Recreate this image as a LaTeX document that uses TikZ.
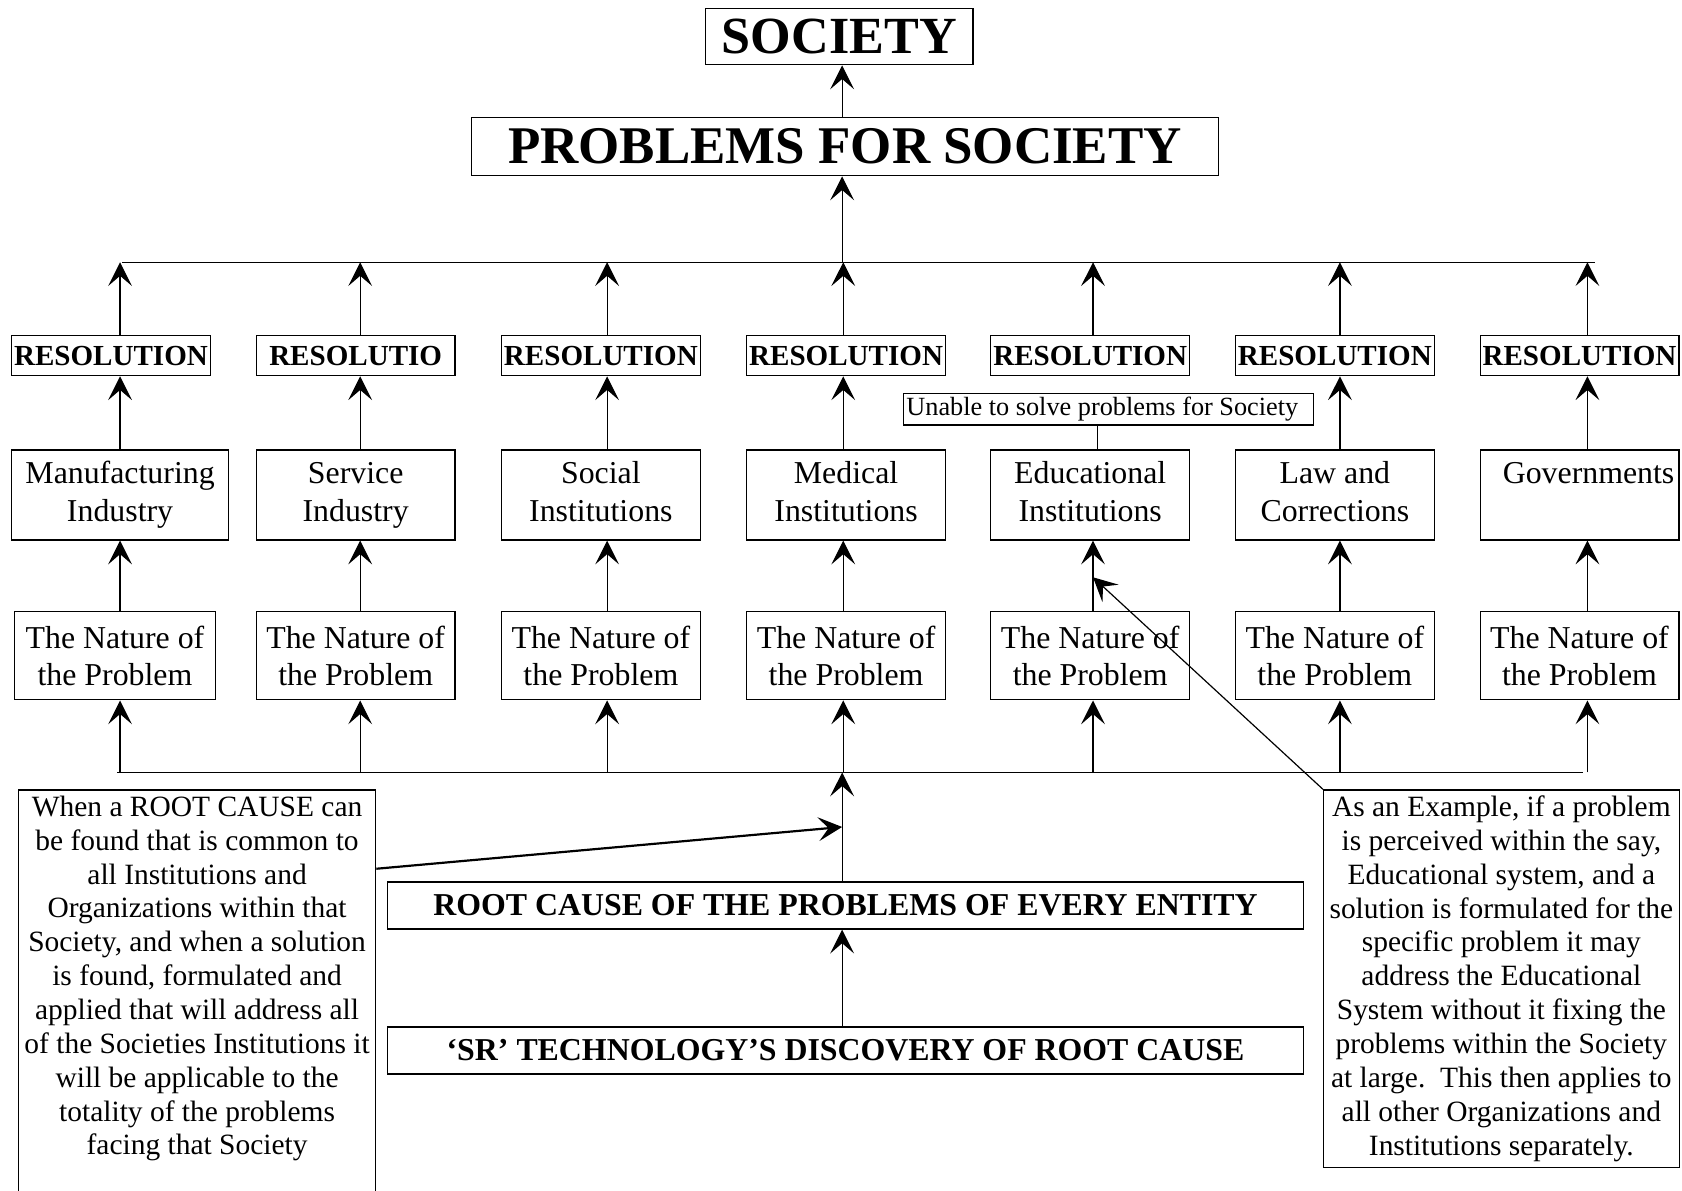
\documentclass[tikz,border=0pt]{standalone}
\usepackage{fontspec}
\setmainfont{Liberation Serif}
\usepackage{tikz}
\usetikzlibrary{arrows.meta,positioning,calc}

\begin{document}
\begin{tikzpicture}[
  every node/.style={align=center},
  box/.style={draw=black, line width=0.6pt, inner sep=1pt},
  res/.style={box, minimum width=3.51cm, minimum height=0.71cm,
              font=\bfseries\fontsize{14.6}{16}\selectfont},
  ent/.style={box, minimum height=1.59cm,
              font=\fontsize{16}{18.8}\selectfont},
  nat/.style={box, minimum height=1.555cm,
              font=\fontsize{16}{18.3}\selectfont},
  note/.style={box, inner sep=3pt, font=\fontsize{14.8}{17}\selectfont},
  up/.style={-{Stealth[length=4.2mm,width=4.2mm,inset=1.8mm]}, line width=0.6pt},
]
\useasboundingbox (0,0) rectangle (29.7,21.03);
\clip (0,0) rectangle (29.7,21.03);

\node[box, minimum width=4.72cm, minimum height=0.99cm,
      font=\bfseries\fontsize{26.2}{28}\selectfont] (soc) at (14.82,20.38) {SOCIETY};
\node[box, minimum width=13.2cm, minimum height=1.03cm,
      font=\bfseries\fontsize{26.6}{28}\selectfont] (pfs) at (14.92,18.44) {PROBLEMS FOR SOCIETY};

\foreach \i/\x/\t in {1/1.96/RESOLUTION,2/6.28/RESOLUTIO,3/10.61/RESOLUTION,
  4/14.94/RESOLUTION,5/19.25/RESOLUTION,6/23.57/RESOLUTION,7/27.89/RESOLUTION}{
  \node[res] (r\i) at (\x,14.75) {\t};
}

\foreach \i/\x/\w/\t in {1/2.12/3.83/{Manufacturing\strut\\Industry\strut},
  2/6.28/3.51/{Service\strut\\Industry\strut}, 3/10.61/3.51/{Social\strut\\Institutions\strut},
  4/14.94/3.51/{Medical\strut\\Institutions\strut}, 5/19.25/3.51/{Educational\strut\\Institutions\strut},
  6/23.57/3.51/{Law and\strut\\Corrections\strut}, 7/27.89/3.51/{\hspace*{0.32cm}Governments\strut\\\strut}}{
  \node[ent, minimum width=\w cm] (e\i) at (\x,12.29) {\t};
}

\foreach \i/\x/\w in {1/2.03/3.54,2/6.28/3.51,3/10.61/3.51,4/14.94/3.51,
  5/19.25/3.51,6/23.57/3.51,7/27.89/3.51}{
  \node[nat, minimum width=\w cm] (n\i) at (\x,9.45) {The Nature of\\the Problem};
}

\foreach \i/\ax in {1/2.12,2/6.36,3/10.72,4/14.89,5/19.30,6/23.66,7/28.03}{
  \coordinate (t\i) at (\ax,16.40);
  \coordinate (b\i) at (\ax,7.39);
}

\coordinate (tl) at (2.16,16.40);
\coordinate (tr) at (28.17,16.40);
\coordinate (bl) at (2.07,7.39);
\coordinate (br) at (27.96,7.39);
\coordinate (top) at (14.87,16.40);
\coordinate (bot) at (14.87,7.39);
\draw[line width=0.6pt] (tl) -- (tr);
\draw[line width=0.6pt] (bl) -- (br);

\draw[up] (top) -- (pfs.south -| top);
\draw[up] (pfs.north -| top) -- (soc.south -| top);

\foreach \i in {1,...,7}{
  \draw[up] (r\i.north -| t\i) -- (t\i);
  \draw[up] (n\i.north -| t\i) -- (e\i.south -| t\i);
  \draw[up] (b\i) -- (n\i.south -| b\i);
}
\foreach \i in {1,2,3,4,6,7}{
  \draw[up] (e\i.north -| t\i) -- (r\i.south -| t\i);
}

\node[box, font=\fontsize{13.2}{15}\selectfont, minimum width=7.235cm,
      minimum height=0.55cm, inner xsep=0.05cm, inner ysep=0pt]
  (unable) at (19.57,13.80) {\makebox[7.13cm][l]{Unable to solve problems for Society}};
\draw[line width=0.6pt] ([xshift=-0.19cm]unable.south)
  -- ([xshift=-0.19cm]unable.south |- e5.north);

\node[box, minimum width=16.18cm, minimum height=0.83cm,
      font=\bfseries\fontsize{16}{18}\selectfont]
  (root) at (14.93,5.04) {ROOT CAUSE OF THE PROBLEMS OF EVERY ENTITY};
\node[box, minimum width=16.18cm, minimum height=0.83cm,
      font=\bfseries\fontsize{16}{18}\selectfont]
  (sr) at (14.93,2.48) {‘SR’ TECHNOLOGY’S DISCOVERY OF ROOT CAUSE};

\draw[up] (root.north -| bot) -- (bot);
\draw[up] (sr.north -| bot) -- (root.south -| bot);

\node[note, minimum width=6.27cm, text depth=7.5cm, anchor=north] (lnote) at (3.48,7.09)
  {When a ROOT CAUSE can\\be found that is common to\\all Institutions and\\
   Organizations within that\\Society, and when a solution\\is found, formulated and\\
   applied that will address all\\of the Societies Institutions it\\
   will be applicable to the\\totality of the problems\\facing that Society};

\node[note, minimum width=6.19cm, minimum height=6.57cm] (rnote) at (26.51,3.75)
  {As an Example, if a problem\\is perceived within the say,\\Educational system, and a\\
   solution is formulated for the\\specific problem it may\\address the Educational\\
   System without it fixing the\\problems within the Society\\
   at large.\ \ This then applies to\\all other Organizations and\\Institutions separately.};

\draw[up, line width=1.1pt] ([yshift=-1.40cm]lnote.north east)
  -- ($(root.north -| bot)!0.5!(bot)$);
\draw[up] (rnote.north west) -- ($(n5.north -| t5)!0.48!(e5.south -| t5)$);

\end{tikzpicture}
\end{document}
